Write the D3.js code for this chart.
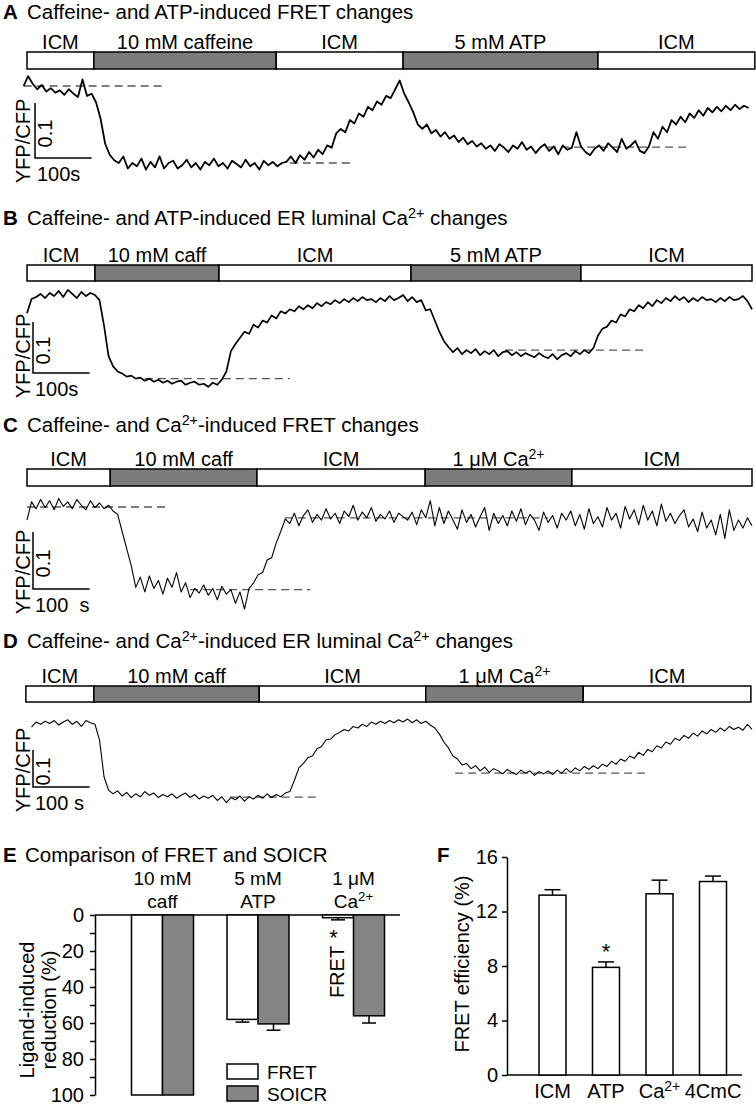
<!DOCTYPE html>
<html>
<head>
<meta charset="utf-8">
<script src="https://d3js.org/d3.v7.min.js"></script>
<style>
  body { margin: 0; background: #fff; }
  svg { font-family: "Liberation Sans", Arial, Helvetica, sans-serif; }
</style>
</head>
<body>
<svg id="fig" width="756" height="1105"></svg>
<script>
// ---- trace data: YFP/CFP change in 0.001 ratio units, one sample every STEP s ----
const STEP = 8;
const traceStart = [-6, 0, 0, 8];

const traceA = [0,18,4,-6,2,-10,-4,-12,-8,-16,-6,-14,-20,12,-18,-14,-30,-60,-105,-125,-135,-140,-128,-150,-140,
  -146,-132,-152,-138,-148,-128,-150,-140,-136,-150,-144,-134,-148,-140,-152,-138,-144,-132,-146,-140,-150,-136,-142,-148,-134,-146,-140,-152,-136,-144,-138,-146,-140,
  -138,-128,-140,-126,-134,-120,-130,-116,-124,-108,-112,-86,-78,-84,-62,-68,-50,-56,-38,-44,-28,-34,-18,-22,-6,10,-14,-30,-48,-70,-78,-70,-86,-80,-92,-84,-96,-90,-102,-94,-106,-100,
  -110,-104,-114,-108,-118,-106,-112,-120,-108,-114,-102,-116,-110,-122,-112,-106,-118,-110,-124,-108,-116,-112,-84,-110,-120,-126,-114,-108,-118,-104,-112,-120,-96,-114,-108,-100,-118,
  -122,-110,-84,-96,-74,-84,-62,-70,-56,-66,-50,-58,-44,-54,-40,-48,-38,-46,-36,-44,-34,-42,-36,-40];

const traceB = [-36,-8,-4,2,-6,4,-2,8,-4,10,2,-6,6,-2,4,0,-10,-60,-120,-140,-150,-154,-160,-158,-164,-162,-168,-164,-170,-166,
  -172,-168,-174,-170,-168,-176,-172,-170,-176,-174,-180,-172,-176,-166,-150,-110,-96,-84,-72,-76,-58,-64,-50,-54,-40,-46,-32,-36,-28,-32,
  -22,-28,-20,-26,-16,-22,-14,-18,-10,-16,-8,-14,-6,-12,-4,-10,-8,-14,-6,-12,-2,-10,-6,0,-12,-4,-14,-10,-30,-28,
  -50,-72,-90,-102,-112,-104,-116,-108,-114,-106,-118,-110,-116,-108,-120,-112,-110,-118,-112,-120,-114,-118,-122,-114,-120,-124,-116,-126,-118,-114,
  -120,-110,-116,-108,-114,-104,-80,-66,-62,-50,-54,-38,-42,-28,-32,-20,-26,-14,-22,-10,-16,-6,-12,-2,-10,-4,-14,-6,-12,-4,
  -10,-8,-14,-6,-12,-4,-10,-8,-2,-12,-28];

const traceC = [-30,2,-10,6,-8,4,-12,8,-6,2,-10,6,-4,-12,4,-8,0,-10,-4,-14,-20,-50,-80,-110,-148,-130,-156,-128,-150,-136,
  -160,-132,-148,-122,-156,-140,-166,-150,-158,-144,-162,-150,-170,-146,-160,-152,-176,-156,-186,-150,-140,-126,-122,-100,-96,-70,-50,-28,-36,-18,
  -40,-22,-12,-34,-20,-30,-10,-28,-18,-36,-14,-24,-4,-30,-16,-26,-8,-32,-20,-28,-14,-34,-18,-24,-30,-16,-38,-12,-26,4,
  -40,-8,-36,-14,-30,-46,-12,-34,-20,-42,-24,-8,-48,-18,-36,-22,-40,-14,-32,-10,-38,-20,-30,-48,-16,-34,-22,-44,-18,-30,
  -14,-40,-20,-46,-10,-36,-24,-42,-8,-30,-18,-44,-6,-28,-12,-38,-4,-30,-14,-40,-2,-32,-18,-36,-22,-12,-42,-28,-50,-16,
  -44,-30,-56,-20,-62,-12,-48,-30,-44,-26,-40];

const traceD = [-6,8,2,10,4,12,0,8,14,2,10,-4,12,6,2,-40,-140,-176,-186,-178,-192,-182,-196,-186,-194,-180,-190,-184,-196,-188,
  -194,-186,-198,-190,-184,-196,-188,-200,-192,-198,-190,-204,-194,-210,-196,-202,-192,-206,-194,-200,-190,-198,-186,-196,-188,-194,-184,-180,-150,-116,
  -104,-88,-84,-64,-58,-40,-38,-26,-20,-12,-16,-4,-8,2,-4,8,2,10,4,12,6,14,8,16,6,14,4,10,0,-8,
  -24,-46,-62,-84,-92,-108,-104,-118,-110,-124,-114,-128,-118,-124,-132,-120,-128,-134,-122,-130,-124,-136,-126,-132,-124,-134,-122,-130,-118,-128,
  -116,-124,-112,-120,-110,-118,-106,-112,-98,-106,-92,-98,-84,-90,-74,-82,-66,-72,-56,-62,-46,-52,-36,-42,-28,-36,-22,-30,-16,-24,
  -12,-20,-8,-16,-4,-12,-6,-14,2,-12];

// ---- perfusion protocol: segment edges (s) and labels ----
const condEdgesA = [0, 118, 440, 664, 1008, 1285];
const condEdgesB = [0, 120, 339, 678, 978, 1280];
const condEdgesC = [0, 147, 406, 703, 962, 1280];
const condEdgesD = [-2, 118, 410, 704, 982, 1278];
const condLabelsA = ["ICM", "10 mM caffeine", "ICM", "5 mM ATP", "ICM"];
const condLabelsB = ["ICM", "10 mM caff", "ICM", "5 mM ATP", "ICM"];
const condLabelsC = ["ICM", "10 mM caff", "ICM", "1 \u03bcM Ca^2+", "ICM"];
const condLabelsD = ["ICM", "10 mM caff", "ICM", "1 \u03bcM Ca^2+", "ICM"];
const condDrug = [0, 1, 0, 1, 0];

// ---- dashed reference levels: [t start, t end, level] ----
const dashA = [[-6, 244, 0], [464, 570, -140], [920, 1172, -111]];
const dashB = [[208, 464, -164], [844, 1093, -108]];
const dashC = [[0, 252, -7], [288, 500, -152], [455, 920, -26]];
const dashD = [[358, 517, -195], [756, 1091, -130]];

// ---- panel E ----
const eCatTop = ["10 mM", "5 mM", "1 \u03bcM"];
const eCatBottom = ["caff", "ATP", "Ca^2+"];
const eFret = [100, 58, 1.5];
const eFretErr = [0, 1.5, 1.2];
const eSoicr = [100, 60.5, 56];
const eSoicrErr = [0, 3.5, 4];
const eTicks = [0, 10, 20, 30, 40, 50, 60, 70, 80, 90, 100];

// ---- panel F ----
const fCats = ["ICM", "ATP", "Ca^2+", "4CmC"];
const fVals = [13.2, 7.9, 13.3, 14.2];
const fErr = [0.4, 0.4, 1.0, 0.4];
const fTicks = [0, 4, 8, 12, 16];

const svg = d3.select("#fig");
const FS = 20;
const TFS = 20.5;

function rich(sel, str, fs) {
  str.split("^").forEach((p, i) => {
    if (!p) return;
    const ts = sel.append("tspan").text(p);
    if (i % 2 === 1) ts.attr("font-size", fs * 0.7).attr("dy", -fs * 0.36);
    else if (i > 0) ts.attr("dy", fs * 0.36);
  });
}

const x = d3.scaleLinear().domain([0, 1280]).range([27, 752]);

const panels = [
  {key: "A", title: "Caffeine- and ATP-induced FRET changes", titleY: 19, barTop: 52, barH: 17, y0: 86, px: 55, sbTop: 103, sbX: 35, lw: 1.8,
   data: traceA, edges: condEdgesA, labels: condLabelsA, dash: dashA, t0: traceStart[0], s: "100s"},
  {key: "B", title: "Caffeine- and ATP-induced ER luminal Ca^2+^ changes", titleY: 225, barTop: 265, barH: 16, y0: 295, px: 51, sbTop: 322, sbX: 33, lw: 1.7,
   data: traceB, edges: condEdgesB, labels: condLabelsB, dash: dashB, t0: traceStart[1], s: "100s"},
  {key: "C", title: "Caffeine- and Ca^2+^-induced FRET changes", titleY: 432, barTop: 469, barH: 17, y0: 503, px: 57, sbTop: 532, sbX: 33, lw: 1.1,
   data: traceC, edges: condEdgesC, labels: condLabelsC, dash: dashC, t0: traceStart[2], s: "100  s"},
  {key: "D", title: "Caffeine- and Ca^2+^-induced ER luminal Ca^2+^ changes", titleY: 648, barTop: 686, barH: 16, y0: 725, px: 37, sbTop: 750, sbX: 33, lw: 1.1,
   data: traceD, edges: condEdgesD, labels: condLabelsD, dash: dashD, t0: traceStart[3], s: "100 s"}
];

panels.forEach(p => {
  const g = svg.append("g");
  g.append("text").attr("x", 3).attr("y", p.titleY).attr("font-size", TFS).attr("font-weight", "bold").text(p.key);
  rich(g.append("text").attr("x", 27).attr("y", p.titleY).attr("font-size", TFS), p.title, TFS);

  // protocol bar
  const segs = d3.pairs(p.edges).map((e, i) => ({t0: e[0], t1: e[1], label: p.labels[i], drug: condDrug[i]}));
  g.selectAll("rect.seg").data(segs).join("rect")
    .attr("x", d => x(d.t0)).attr("y", p.barTop)
    .attr("width", d => x(d.t1) - x(d.t0)).attr("height", p.barH)
    .attr("fill", d => d.drug ? "#7b7b7b" : "#fff")
    .attr("stroke", "#000").attr("stroke-width", 1.5);
  g.selectAll("text.seg").data(segs).join("text")
    .attr("x", d => (x(d.t0) + x(d.t1)) / 2).attr("y", p.barTop - 3)
    .attr("text-anchor", "middle").attr("font-size", FS)
    .each(function(d) { rich(d3.select(this), d.label, FS); });

  const y = d3.scaleLinear().domain([0, -100]).range([p.y0, p.y0 + p.px]);

  // dashed levels
  g.selectAll("line.dash").data(p.dash).join("line")
    .attr("x1", d => x(d[0])).attr("x2", d => x(d[1]))
    .attr("y1", d => y(d[2])).attr("y2", d => y(d[2]))
    .attr("stroke", "#555").attr("stroke-width", 1.3).attr("stroke-dasharray", "8,5");

  // trace
  const line = d3.line().x((d, i) => x(p.t0 + i * STEP)).y(d => y(d));
  g.append("path").datum(p.data).attr("d", line)
    .attr("fill", "none").attr("stroke", "#000").attr("stroke-width", p.lw).attr("stroke-linejoin", "round");

  // scale bar: 0.1 ratio, 100 s
  const h = y(-100) - y(0), w = x(100) - x(0);
  const sbBot = p.sbTop + h;
  g.append("path").attr("d", `M${p.sbX},${p.sbTop}V${sbBot}H${p.sbX + w}`)
    .attr("fill", "none").attr("stroke", "#000").attr("stroke-width", 1.5);
  g.append("text").attr("transform", `translate(${p.sbX + 17},${p.sbTop + h / 2 + 3}) rotate(-90)`)
    .attr("text-anchor", "middle").attr("font-size", FS).text("0.1");
  g.append("text").attr("x", p.sbX + 2).attr("y", sbBot + 23).attr("font-size", FS).attr("xml:space", "preserve").text(p.s);
  g.append("text").attr("transform", `translate(30,${sbBot - 17}) rotate(-90)`)
    .attr("text-anchor", "middle").attr("font-size", FS).text("YFP/CFP");
});

// ---------------- Panel E ----------------
const gE = svg.append("g");
gE.append("text").attr("x", 3).attr("y", 862).attr("font-size", TFS).attr("font-weight", "bold").text("E");
gE.append("text").attr("x", 25).attr("y", 862).attr("font-size", TFS).text("Comparison of FRET and SOICR");

const yE = d3.scaleLinear().domain([0, 100]).range([915, 1095]);
const xE = d3.scalePoint().domain(eCatTop).range([162.5, 353.5]);
const bwE = 31;

const axE = gE.append("g").attr("transform", "translate(95,0)")
  .call(d3.axisLeft(yE).tickValues(eTicks).tickSize(5).tickSizeOuter(0).tickPadding(6)
    .tickFormat(d => d % 20 === 0 ? d : ""));
axE.select(".domain").attr("stroke-width", 1.5);
axE.selectAll(".tick line").attr("stroke-width", 1.5);
axE.selectAll(".tick text").attr("font-size", FS).attr("font-family", null);
gE.append("line").attr("x1", 95).attr("x2", 400).attr("y1", yE(0)).attr("y2", yE(0))
  .attr("stroke", "#000").attr("stroke-width", 1.5);

gE.append("text").attr("transform", "translate(34,1010) rotate(-90)").attr("text-anchor", "middle")
  .attr("font-size", FS).text("Ligand-induced");
gE.append("text").attr("transform", "translate(56,1010) rotate(-90)").attr("text-anchor", "middle")
  .attr("font-size", FS).text("reduction (%)");

const eRows = eCatTop.map((c, i) => ({c, i, fret: eFret[i], fretErr: eFretErr[i], soicr: eSoicr[i], soicrErr: eSoicrErr[i]}));
gE.selectAll("text.cat1").data(eRows).join("text")
  .attr("x", d => xE(d.c)).attr("y", 885).attr("text-anchor", "middle").attr("font-size", 19).text(d => d.c);
gE.selectAll("text.cat2").data(eRows).join("text")
  .attr("x", d => xE(d.c)).attr("y", 908).attr("text-anchor", "middle").attr("font-size", 19)
  .each(function(d) { rich(d3.select(this), eCatBottom[d.i], 19); });

const eBars = eRows.flatMap(d => [
  {x0: xE(d.c) - bwE, v: d.fret, e: d.fretErr, fill: "#fff"},
  {x0: xE(d.c), v: d.soicr, e: d.soicrErr, fill: "#858585"}
]);
gE.selectAll("line.err").data(eBars.filter(d => d.e > 0)).join("line")
  .attr("x1", d => d.x0 + bwE / 2).attr("x2", d => d.x0 + bwE / 2)
  .attr("y1", d => yE(d.v)).attr("y2", d => yE(d.v + d.e)).attr("stroke", "#000").attr("stroke-width", 1.5);
gE.selectAll("line.cap").data(eBars.filter(d => d.e > 0)).join("line")
  .attr("x1", d => d.x0 + bwE / 2 - 7).attr("x2", d => d.x0 + bwE / 2 + 7)
  .attr("y1", d => yE(d.v + d.e)).attr("y2", d => yE(d.v + d.e)).attr("stroke", "#000").attr("stroke-width", 1.5);
gE.selectAll("rect.bar").data(eBars).join("rect")
  .attr("x", d => d.x0).attr("y", yE(0)).attr("width", bwE).attr("height", d => yE(d.v) - yE(0))
  .attr("fill", d => d.fill).attr("stroke", "#000").attr("stroke-width", 1.5);

gE.append("text").attr("x", xE(eCatTop[2]) - 20).attr("y", 945).attr("text-anchor", "middle").attr("font-size", 22).text("*");
gE.append("text").attr("transform", `translate(${xE(eCatTop[2]) - 10},972) rotate(-90)`).attr("text-anchor", "middle")
  .attr("font-size", FS).text("FRET");

const legend = [{label: "FRET", fill: "#fff", y: 1064}, {label: "SOICR", fill: "#858585", y: 1086}];
gE.selectAll("rect.leg").data(legend).join("rect")
  .attr("x", 227).attr("y", d => d.y).attr("width", 31).attr("height", 15)
  .attr("fill", d => d.fill).attr("stroke", "#000").attr("stroke-width", 1.5);
gE.selectAll("text.leg").data(legend).join("text")
  .attr("x", 267).attr("y", d => d.y + 15).attr("font-size", 19).text(d => d.label);

// ---------------- Panel F ----------------
const gF = svg.append("g");
gF.append("text").attr("x", 437).attr("y", 862).attr("font-size", TFS).attr("font-weight", "bold").text("F");
const yF = d3.scaleLinear().domain([0, 16]).range([1075, 857]);
const xF = d3.scalePoint().domain(fCats).range([552.5, 713]);
const bwF = 27;

const axF = gF.append("g").attr("transform", "translate(507,0)")
  .call(d3.axisLeft(yF).tickValues(fTicks).tickSize(5).tickSizeOuter(0).tickPadding(4));
axF.select(".domain").attr("stroke-width", 1.5);
axF.selectAll(".tick line").attr("stroke-width", 1.5);
axF.selectAll(".tick text").attr("font-size", FS).attr("font-family", null);
gF.append("line").attr("x1", 507).attr("x2", 742).attr("y1", yF(0)).attr("y2", yF(0))
  .attr("stroke", "#000").attr("stroke-width", 1.5);

gF.append("text").attr("transform", "translate(469,964) rotate(-90)").attr("text-anchor", "middle")
  .attr("font-size", FS).text("FRET efficiency (%)");

const fRows = fCats.map((c, i) => ({c, v: fVals[i], e: fErr[i]}));
gF.selectAll("line.err").data(fRows).join("line")
  .attr("x1", d => xF(d.c)).attr("x2", d => xF(d.c))
  .attr("y1", d => yF(d.v)).attr("y2", d => yF(d.v + d.e)).attr("stroke", "#000").attr("stroke-width", 1.5);
gF.selectAll("line.cap").data(fRows).join("line")
  .attr("x1", d => xF(d.c) - 8).attr("x2", d => xF(d.c) + 8)
  .attr("y1", d => yF(d.v + d.e)).attr("y2", d => yF(d.v + d.e)).attr("stroke", "#000").attr("stroke-width", 1.5);
gF.selectAll("rect.bar").data(fRows).join("rect")
  .attr("x", d => xF(d.c) - bwF / 2).attr("y", d => yF(d.v)).attr("width", bwF).attr("height", d => yF(0) - yF(d.v))
  .attr("fill", "#fff").attr("stroke", "#000").attr("stroke-width", 1.5);
gF.selectAll("text.cat").data(fRows).join("text")
  .attr("x", d => xF(d.c)).attr("y", 1098).attr("text-anchor", "middle").attr("font-size", FS)
  .each(function(d) { rich(d3.select(this), d.c, FS); });
gF.append("text").attr("x", xF("ATP")).attr("y", 959).attr("text-anchor", "middle").attr("font-size", 22).text("*");
</script>
</body>
</html>
